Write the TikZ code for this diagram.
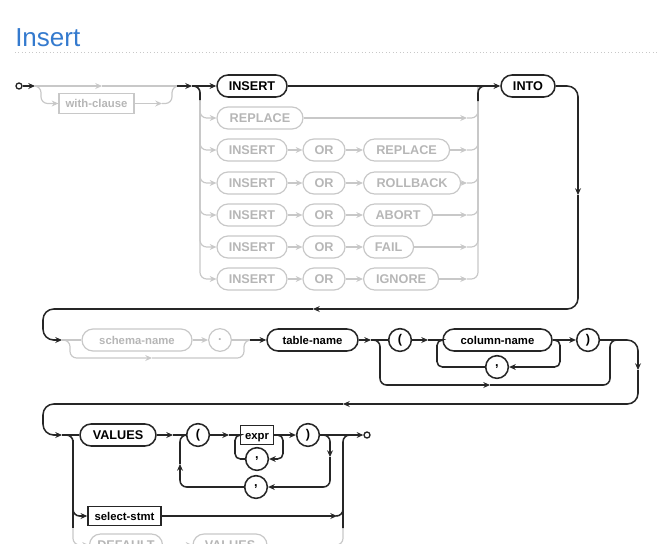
\documentclass[tikz,border=0pt]{standalone}
\usepackage{fontspec}
\setmainfont{Liberation Sans}
\usetikzlibrary{arrows.meta}
\definecolor{titleblue}{RGB}{52,122,206}
\definecolor{railgrey}{RGB}{200,200,200}
\definecolor{railtext}{RGB}{182,182,182}

\begin{document}
\begin{tikzpicture}[x=0.75pt,y=-0.75pt,
  >={Stealth[length=5pt,width=4.4pt]},
  blk/.style={draw=black!85, line width=1.15pt},
  gry/.style={draw=railgrey, line width=0.9pt},
  kwb/.style={blk, rounded corners=8.25pt, minimum height=16.5pt, minimum width=#1*0.75pt, inner sep=0pt, text height=6.8pt, text depth=0.4pt, font=\bfseries\fontsize{9.5}{10}\selectfont},
  kwg/.style={kwb=#1, gry, text=railtext},
  nmb/.style={kwb=#1, text height=6.2pt, text depth=0pt, font=\bfseries\fontsize{8.5}{9}\selectfont},
  nmg/.style={nmb=#1, gry, text=railtext},
  rcb/.style={blk, minimum height=14.5pt, minimum width=#1*0.75pt, inner sep=0pt, text height=6.2pt, text depth=0pt, font=\bfseries\fontsize{8.5}{9}\selectfont},
  rcg/.style={rcb=#1, gry, text=railtext},
  chb/.style={blk, circle, minimum size=17pt, inner sep=0pt, font=\bfseries\fontsize{9.5}{10}\selectfont},
  chg/.style={chb, gry, text=railtext},
  term/.style={draw=black!85, line width=1pt, fill=white, circle, minimum size=4.5pt, inner sep=0pt}]
\useasboundingbox (0,0) rectangle (659,543);
\node[anchor=base west, inner sep=0pt, text=titleblue, font=\fontsize{19.5}{20}\selectfont] (title) at (15,46) {Insert};
\draw[railgrey, dotted, line width=0.6pt] (15,52) -- (659,52);

\node[term] (start) at (19,86) {};
\node[rcg=75] (with) at (96.5,103.5) {with-clause};
\node[kwb=70] (ins) at (252,86) {INSERT};
\node[kwb=54] (into) at (528,86) {INTO};
\node[kwg=86] (rep) at (260,118) {REPLACE};
\coordinate (j0) at (35,86);
\coordinate (m0) at (102,86);
\coordinate (m1) at (162,103.5);
\coordinate (j1) at (177,86);
\coordinate (a1) at (192,86);
\coordinate (jlb) at (200,100);
\coordinate (m2) at (467,118);
\coordinate (jr) at (478,86);
\coordinate (jrb) at (478,101);
\draw[blk,->] (start) -- (j0);
\draw[gry,->] (j0) -- (m0);
\draw[gry] (m0) -- (j1);
\draw[gry,->,rounded corners=5pt] (j0) -- (41,86) |- (with);
\draw[gry,->] (with) -- (m1);
\draw[gry,rounded corners=5pt] (m1) -| (172,86) -- (j1);
\draw[gry,->,rounded corners=5pt] (a1) -- (200,86) |- (rep);
\draw[gry,->] (rep) -- (m2);
\draw[gry,rounded corners=5pt] (m2) -| (jr);
\foreach \y/\n/\w/\t in {150/a/86/REPLACE, 183/b/97/ROLLBACK, 215/c/69/ABORT, 247/d/50/FAIL, 279/e/75/IGNORE} {
  \node[kwg=70] (ins\n) at (252,\y) {INSERT};
  \node[kwg=42] (or\n) at (324,\y) {OR};
  \node[kwg=\w, anchor=west] (alt\n) at (363,\y) {\t};
  \coordinate (m\n) at (467,\y);
  \draw[gry,->,rounded corners=5pt] (a1) -- (200,86) |- (ins\n);
  \draw[gry,->] (ins\n) -- (or\n);
  \draw[gry,->] (or\n) -- (alt\n);
  \draw[gry,->] (alt\n) -- (m\n);
  \draw[gry,rounded corners=5pt] (m\n) -| (jr);
}
\draw[blk,->] (j1) -- (a1);
\draw[blk,rounded corners=5pt] (a1) -- (200,86) -- (jlb);
\draw[blk,->] (a1) -- (ins);
\draw[blk,->] (ins) -- (into);
\draw[blk,rounded corners=5pt] (jrb) -- (jr) -- (486,86);

\coordinate (d1) at (578,195);
\coordinate (l1) at (313,309);
\coordinate (r3) at (62,340);
\draw[blk,->,rounded corners=8pt] (into) -| (d1);
\draw[blk,->,rounded corners=8pt] (d1) |- (l1);
\draw[blk,->,rounded corners=8pt] (l1) -| (43,340) -- (r3);

\node[nmg=110] (schema) at (137,340) {schema-name};
\node[chg] (dot) at (220,340) {.};
\node[nmb=91] (tbl) at (312.5,340) {table-name};
\node[chb] (lpa) at (400,340) {(};
\node[nmb=109] (col) at (497.5,340) {column-name};
\node[chb] (cma) at (497,367) {,};
\node[chb] (rpa) at (588,340) {)};
\coordinate (b3) at (152,358);
\coordinate (j3) at (250,340);
\coordinate (a3) at (371,340);
\coordinate (b4) at (490,385);
\coordinate (j4) at (618,340);
\coordinate (a4) at (428,340);
\draw[gry] (r3) -- (schema);
\draw[gry,->,rounded corners=5pt] (r3) -- (70,340) |- (b3);
\draw[gry,rounded corners=5pt] (b3) -| (244,340) -- (j3);
\draw[gry,->] (schema) -- (dot);
\draw[gry] (dot) -- (j3);
\draw[blk,->] (j3) -- (tbl);
\draw[blk,->] (tbl) -- (a3);
\draw[blk] (a3) -- (lpa);
\draw[blk,->,rounded corners=5pt] (a3) -- (380,340) |- (b4);
\draw[blk,rounded corners=5pt] (b4) -| (610,340) -- (j4);
\draw[blk,->] (lpa) -- (a4);
\draw[blk] (a4) -- (col);
\draw[blk,->,rounded corners=4pt] (col) -| (560,367) -- (cma);
\draw[blk,rounded corners=4pt] (cma) -| (437,340) -- (col);
\draw[blk,->] (col) -- (rpa);

\coordinate (d2) at (638,370);
\coordinate (l2) at (343,404);
\coordinate (r4) at (62,435);
\draw[blk,->,rounded corners=8pt] (rpa) -| (d2);
\draw[blk,->,rounded corners=8pt] (d2) |- (l2);
\draw[blk,->,rounded corners=8pt] (l2) -| (43,435) -- (r4);

\node[kwb=76] (vals) at (118,435) {VALUES};
\node[chb] (lpb) at (198,435) {(};
\node[rcb=33] (expr) at (257,435) {expr};
\node[chb] (cmb) at (257,459) {,};
\node[chb] (rpb) at (308,435) {)};
\node[chb] (cmc) at (256,487) {,};
\node[term] (stop) at (367,435) {};
\node[rcb=73] (sel) at (124.5,516) {select-stmt};
\node[kwg=73] (dflt) at (126,545) {DEFAULT};
\node[kwg=74] (vals2) at (230,545) {VALUES};
\coordinate (jb) at (73,528);
\coordinate (a5) at (173,435);
\coordinate (u1) at (180,464);
\coordinate (a6) at (229,435);
\coordinate (d3) at (330,457);
\coordinate (a8) at (337,516);
\coordinate (je) at (343,528);
\draw[gry,->,rounded corners=5pt] (r4) -- (73,435) |- (dflt);
\draw[gry,->] (dflt) -- (vals2);
\draw[gry,rounded corners=5pt] (vals2) -| (je);
\draw[blk] (r4) -- (vals);
\draw[blk,->,rounded corners=5pt] (r4) -- (73,435) |- (sel);
\draw[blk] (73,440) -- (jb);
\draw[blk,->] (vals) -- (a5);
\draw[blk] (a5) -- (lpb);
\draw[blk,->,rounded corners=5pt] (cmc) -| (u1);
\draw[blk,rounded corners=5pt] (u1) |- (lpb);
\draw[blk,->] (lpb) -- (a6);
\draw[blk] (a6) -- (expr);
\draw[blk,->,rounded corners=4pt] (expr) -| (283,459) -- (cmb);
\draw[blk,rounded corners=4pt] (cmb) -| (235,435) -- (expr);
\draw[blk,->] (expr) -- (rpb);
\draw[blk,->,rounded corners=5pt] (rpb) -| (d3);
\draw[blk,->,rounded corners=5pt] (d3) |- (cmc);
\draw[blk,->] (rpb) -- (stop);
\draw[blk,->] (sel) -- (a8);
\draw[blk,rounded corners=5pt] (a8) -| (343,505);
\draw[blk,rounded corners=5pt] (je) -- (343,435) -- (350,435);
\end{tikzpicture}
\end{document}
